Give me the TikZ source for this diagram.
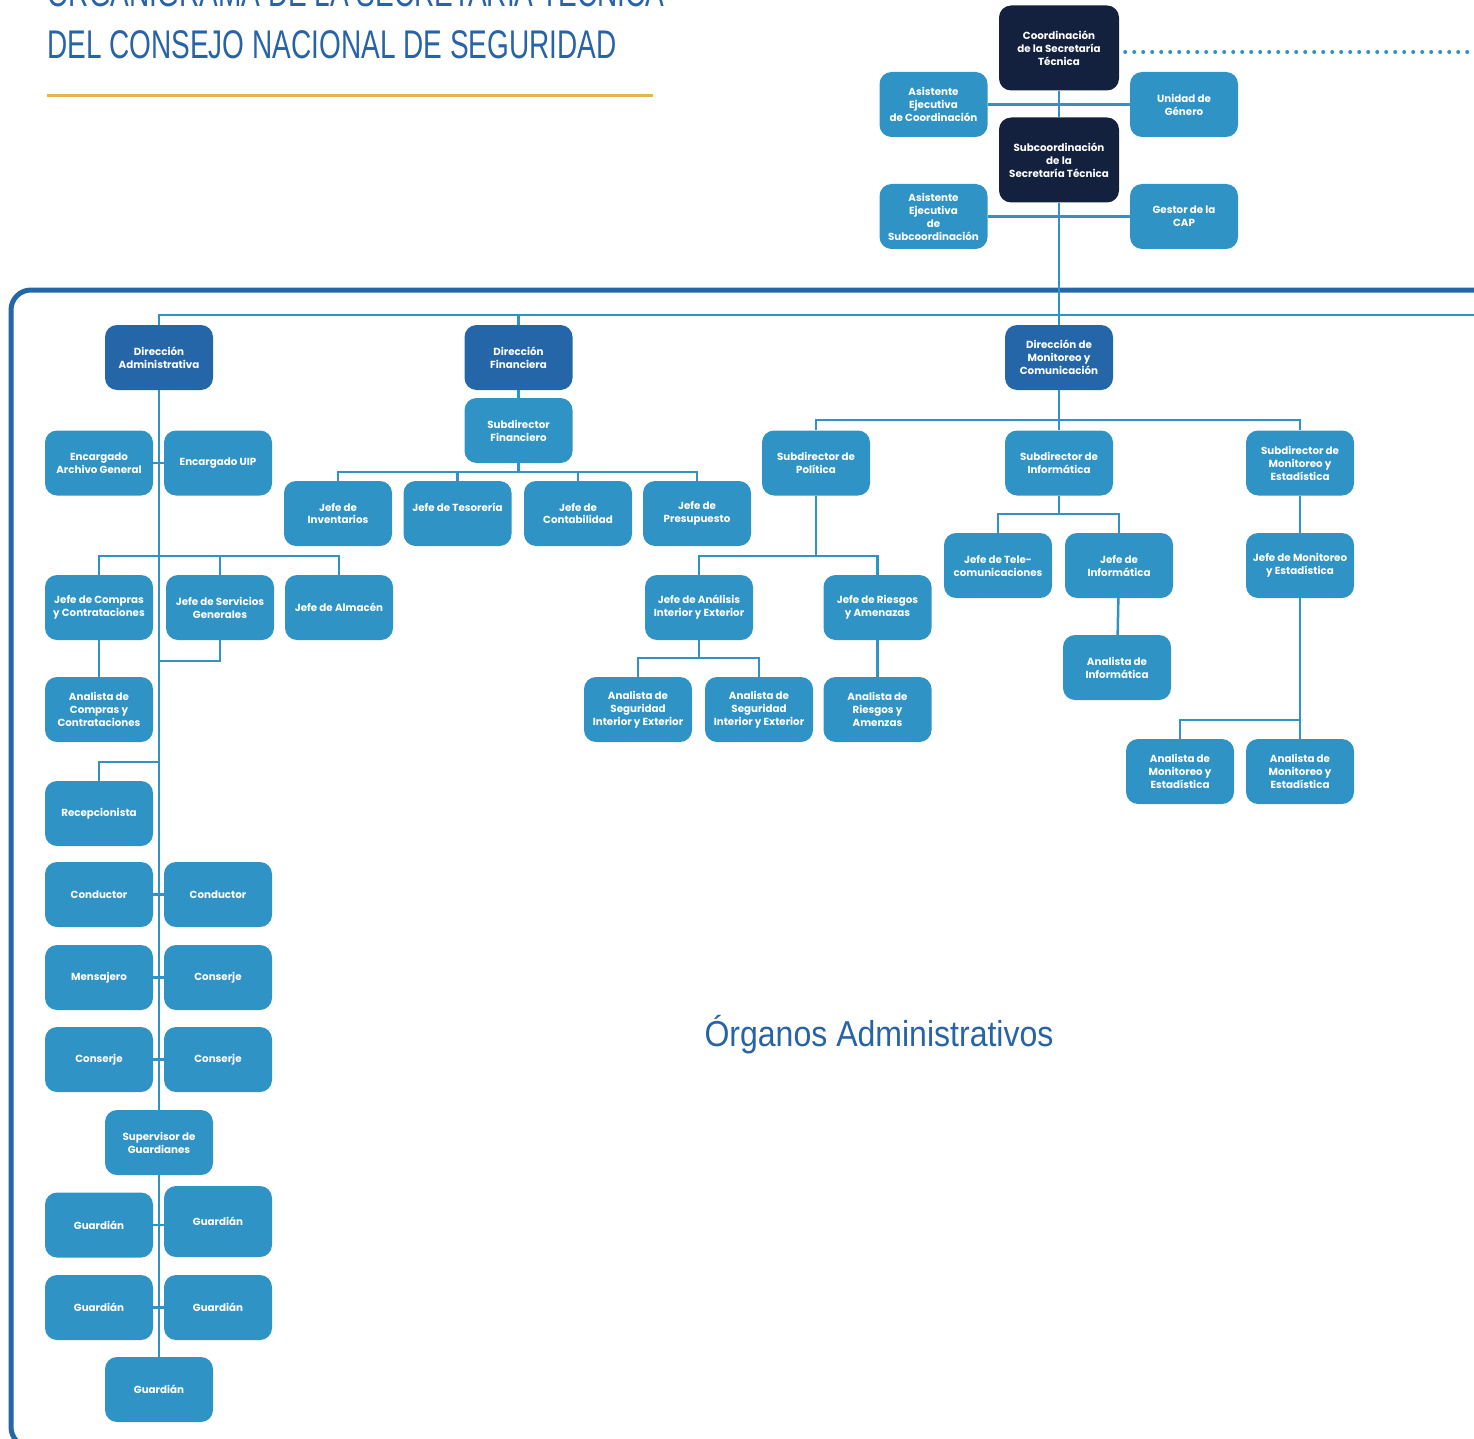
\documentclass[tikz,border=0pt]{standalone}
\usepackage{fontspec}
\setsansfont{Poppins}
\newfontfamily\titlefont{Liberation Sans}[FakeStretch=0.70]
\newfontfamily\labelfont{Liberation Sans}[FakeStretch=0.89]
\usetikzlibrary{positioning}
\usetikzlibrary{calc}

\definecolor{unitblue}{HTML}{2F93C6}
\definecolor{direcblue}{HTML}{2466A8}
\definecolor{navy}{HTML}{13213F}
\definecolor{frameblue}{HTML}{2467A9}
\definecolor{titleblue}{HTML}{2763A6}
\definecolor{gold}{HTML}{E6B350}

\tikzset{
  unit/.style={fill=unitblue, rounded corners=12pt, minimum width=108pt,
    minimum height=65pt, inner sep=1pt, align=center, text=white,
    font=\sffamily\bfseries\fontsize{10.3}{13}\selectfont},
  direc/.style={unit, fill=direcblue},
  head/.style={unit, fill=navy, minimum width=120pt, minimum height=85pt},
  link/.style={draw=unitblue, line width=2.5pt},
  dotline/.style={draw=unitblue, line width=4pt, line cap=round,
    dash pattern=on 0pt off 9pt},
}

\begin{document}
\begin{tikzpicture}[x=1pt,y=-1pt]
    \useasboundingbox (0,0) rectangle (1474,1439);

    % title
    \begin{scope}
    \clip (0,0) rectangle (1474,1439);
    \node[anchor=base west, inner sep=0, text=titleblue, font=\titlefont\fontsize{40}{48}\selectfont] (title1) at (47,7) {ORGANIGRAMA DE LA SECRETARÍA TÉCNICA};
    \node[anchor=base west, inner sep=0, text=titleblue, font=\titlefont\fontsize{40}{48}\selectfont] (title2) at (47,59) {DEL CONSEJO NACIONAL DE SEGURIDAD};
    \draw[gold, line width=3pt] (47,96) -- (653,96);

    % frame
    \draw[frameblue, line width=5pt, rounded corners=20pt] (1500,1447) -- (11,1447) -- (11,290) -- (1500,290);
    \end{scope}

    % top
    \node[head] (coord) at (1059,48) {Coordinación\\de la Secretaría\\Técnica};
    \node[head] (subcoord) at (1059,160) {Subcoordinación\\de la\\Secretaría Técnica};
    \node[unit] (asisCoord) at (933.5,104.5) {Asistente\\Ejecutiva\\de Coordinación};
    \node[unit] (genero) at (1184,104.5) {Unidad de\\Género};
    \node[unit] (asisSub) at (933.5,216.5) {Asistente\\Ejecutiva\\de\\Subcoordinación};
    \node[unit] (cap) at (1184,216.5) {Gestor de la\\CAP};

    \coordinate (dotEnd) at (1480,52);
    \coordinate (busTop) at (1490,315);

    % direcciones
    \node[direc] (dirAdm) at (159,357.5) {Dirección\\Administrativa};
    \node[direc] (dirFin) at (518.5,357.5) {Dirección\\Financiera};
    \node[direc] (dirMon) at (1059,357.5) {Dirección de\\Monitoreo y\\Comunicación};

    % administrativa
    \node[unit] (archivo) at (99,463) {Encargado\\Archivo General};
    \node[unit] (uip) at (218,463) {Encargado UIP};
    \node[unit] (compras) at (99,607.5) {Jefe de Compras\\y Contrataciones};
    \node[unit] (servicios) at (220,607.5) {Jefe de Servicios\\Generales};
    \node[unit] (almacen) at (339,607.5) {Jefe de Almacén};
    \node[unit] (anaCompras) at (99,709.5) {Analista de\\Compras y\\Contrataciones};
    \node[unit] (recep) at (99,813.5) {Recepcionista};
    \node[unit] (cond1) at (99,894.5) {Conductor};
    \node[unit] (cond2) at (218,894.5) {Conductor};
    \node[unit] (mensa) at (99,977.5) {Mensajero};
    \node[unit] (consA) at (218,977.5) {Conserje};
    \node[unit] (consB) at (99,1059.5) {Conserje};
    \node[unit] (consC) at (218,1059.5) {Conserje};
    \node[unit] (superv) at (159,1142.5) {Supervisor de\\Guardianes};
    \node[unit] (guard1) at (99,1225) {Guardián};
    \node[unit, minimum height=71pt] (guard2) at (218,1221.5) {Guardián};
    \node[unit] (guard3) at (99,1307.5) {Guardián};
    \node[unit] (guard4) at (218,1307.5) {Guardián};
    \node[unit] (guard5) at (159,1389.5) {Guardián};

    \coordinate (busAdm) at (159,556);
    \coordinate (svcJoin) at (159,661);
    \coordinate (recJoin) at (159,762);

    % financiera
    \node[unit] (subFin) at (518.5,430.5) {Subdirector\\Financiero};
    \node[unit] (inv) at (338,513.5) {Jefe de\\Inventarios};
    \node[unit] (teso) at (457.5,513.5) {Jefe de Tesorería\\\phantom{J}};
    \node[unit] (conta) at (578,513.5) {Jefe de\\Contabilidad};
    \node[unit] (presu) at (697,513.5) {Jefe de\\Presupuesto};

    \coordinate (busFin) at (518.5,472);

    % monitoreo
    \node[unit] (subPol) at (816,463) {Subdirector de\\Política};
    \node[unit] (subInf) at (1059,463) {Subdirector de\\Informática};
    \node[unit] (subMon) at (1300,463) {Subdirector de\\Monitoreo y\\Estadística};
    \node[unit] (jAna) at (699,607.5) {Jefe de Análisis\\Interior y Exterior};
    \node[unit] (jRies) at (877.5,607.5) {Jefe de Riesgos\\y Amenazas};
    \node[unit] (anaSeg1) at (638,709.5) {Analista de\\Seguridad\\Interior y Exterior};
    \node[unit] (anaSeg2) at (759,709.5) {Analista de\\Seguridad\\Interior y Exterior};
    \node[unit] (anaRies) at (877.5,709.5) {Analista de\\Riesgos y\\Amenzas};
    \node[unit] (jTele) at (998,565.5) {Jefe de Tele-\\comunicaciones};
    \node[unit] (jInf) at (1119,565.5) {Jefe de\\Informática};
    \node[unit] (anaInf) at (1117,667.5) {Analista de\\Informática};
    \node[unit] (jMon) at (1300,565.5) {Jefe de Monitoreo\\y Estadística};
    \node[unit] (anaEst1) at (1180,771.5) {Analista de\\Monitoreo y\\Estadística};
    \node[unit] (anaEst2) at (1300,771.5) {Analista de\\Monitoreo y\\Estadística};

    \coordinate (busMon) at (1059,420);
    \coordinate (busPol) at (817,556);
    \coordinate (busAna) at (699,658);
    \coordinate (busInf) at (1059,514);
    \coordinate (busEst) at (1300,720);

    \node[anchor=base, inner sep=0, text=titleblue, font=\labelfont\fontsize{36}{42}\selectfont] (organos) at (879,1046) {Órganos Administrativos};

    % links top
    \draw[dotline] (coord.east |- dotEnd) ++(6,0) -- (dotEnd);
    \draw[link] (coord) -- (subcoord);
    \draw[link] (asisCoord) -- (genero);
    \draw[link] (asisSub) -- (cap);
    \draw[link] (subcoord) -- (dirMon);
    \draw[link] (dirAdm) |- (busTop);
    \draw[link] (dirFin) -- (dirFin |- busTop);

    % links administrativa
    \draw[link] (dirAdm) -- (superv);
    \draw[link] (superv) -- (guard5);
    \draw[link] (archivo) -- (uip);
    \draw[link] (compras) |- (busAdm) -| (almacen);
    \draw[link] (servicios) -- (servicios |- busAdm);
    \draw[link] (servicios) |- (svcJoin);
    \draw[link] (compras) -- (anaCompras);
    \draw[link] (recJoin) -| (recep);
    \draw[link] (cond1) -- (cond2);
    \draw[link] (mensa) -- (consA);
    \draw[link] (consB) -- (consC);
    \draw[link] (guard1) -- (guard1 -| guard2.west);
    \draw[link] (guard3) -- (guard4);

    % links financiera
    \draw[link] (dirFin) -- (subFin);
    \draw[link] (inv) |- (busFin) -| (presu);
    \draw[link] (subFin) -- (busFin);
    \draw[link] (teso) -- (teso |- busFin);
    \draw[link] (conta) -- (conta |- busFin);

    % links monitoreo
    \draw[link] (dirMon) -- (subInf);
    \draw[link] (subPol) |- (busMon) -| (subMon);
    \draw[link] (subPol) -- (subPol |- busPol);
    \draw[link] (jAna) |- (busPol) -| (jRies);
    \draw[link] (jAna) -- (busAna);
    \draw[link] (anaSeg1) |- (busAna) -| (anaSeg2);
    \draw[link] (jRies) -- (anaRies);
    \draw[link] (subInf) -- (busInf);
    \draw[link] (jTele) |- (busInf) -| (jInf);
    \draw[link] (jInf) -- (anaInf);
    \draw[link] (subMon) -- (jMon);
    \draw[link] (jMon) -- (anaEst2);
    \draw[link] (anaEst1) |- (busEst);
\end{tikzpicture}
\end{document}
